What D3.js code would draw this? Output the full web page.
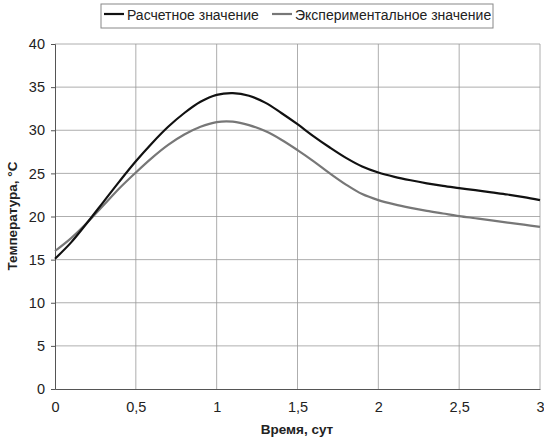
<!DOCTYPE html>
<html><head><meta charset="utf-8">
<script src="https://cdn.jsdelivr.net/npm/d3@7"></script>
<style>body{margin:0;background:#fff}svg{display:block}text{font-family:"Liberation Sans",Arial,sans-serif}</style>
</head><body><svg id="c" width="544" height="439"></svg>
<script>
const times = [0,0.1,0.2,0.3,0.4,0.5,0.6,0.7,0.8,0.9,1.0,1.1,1.2,1.3,1.4,1.5,1.6,1.7,1.8,1.9,2.0,2.1,2.2,2.3,2.4,2.5,2.6,2.7,2.8,2.9,3.0];
const calculated = [15.1,17.0,19.3,21.7,24.1,26.4,28.5,30.4,32.0,33.3,34.1,34.3,34.0,33.2,32.0,30.7,29.3,28.0,26.8,25.8,25.1,24.6,24.2,23.85,23.55,23.3,23.05,22.8,22.55,22.25,21.9];
const experimental = [16.0,17.5,19.3,21.3,23.3,25.1,26.8,28.3,29.5,30.4,30.95,31.0,30.6,29.9,28.9,27.7,26.4,25.0,23.7,22.6,21.9,21.4,21.0,20.65,20.35,20.05,19.8,19.55,19.3,19.05,18.8];
const seriesNames = ["Расчетное значение","Экспериментальное значение"];
const xTicks = [0,0.5,1,1.5,2,2.5,3];
const yTicks = [0,5,10,15,20,25,30,35,40];
const xTitle = "Время, сут";
const yTitle = "Температура, °С";

const svg = d3.select("#c");
const L=55,R=540,T=44,B=389;
const x = d3.scaleLinear().domain([0,3]).range([L,R]);
const y = d3.scaleLinear().domain([0,40]).range([B,T]);
const fmt = d => String(d).replace(".",",");

// grid
svg.append("g").selectAll("line").data(yTicks.filter(d=>d>0)).join("line")
  .attr("x1",L).attr("x2",R).attr("y1",d=>y(d)).attr("y2",d=>y(d))
  .attr("stroke","#999").attr("stroke-width",0.8);
svg.append("g").selectAll("line").data(xTicks.filter(d=>d>0)).join("line")
  .attr("y1",T).attr("y2",B).attr("x1",d=>x(d)).attr("x2",d=>x(d))
  .attr("stroke","#999").attr("stroke-width",0.8);

// axes
const xa = svg.append("g").attr("transform",`translate(0,${B})`)
  .call(d3.axisBottom(x).tickValues(xTicks).tickFormat(fmt).tickSize(0).tickPadding(13));
const ya = svg.append("g").attr("transform",`translate(${L},0)`)
  .call(d3.axisLeft(y).tickValues(yTicks).tickSize(4).tickPadding(6));
[xa,ya].forEach(a=>{a.select(".domain").attr("stroke","#555");a.selectAll("line").attr("stroke","#555");
  a.selectAll("text").attr("font-size",14.5).attr("fill","#222").attr("font-family","Liberation Sans, Arial, sans-serif");});

const line = d3.line().x((d,i)=>x(times[i])).y(d=>y(d)).curve(d3.curveCatmullRom.alpha(0.5));
svg.append("path").attr("d",line(experimental)).attr("fill","none").attr("stroke","#777").attr("stroke-width",2.2);
svg.append("path").attr("d",line(calculated)).attr("fill","none").attr("stroke","#111").attr("stroke-width",2.2);

// titles
svg.append("text").attr("x",297).attr("y",434).attr("text-anchor","middle")
  .attr("font-size",13.5).attr("font-weight","bold").attr("fill","#222").text(xTitle);
svg.append("text").attr("transform","translate(17,216) rotate(-90)").attr("text-anchor","middle")
  .attr("font-size",13.5).attr("font-weight","bold").attr("fill","#222").text(yTitle);

// legend
const lg = svg.append("g");
lg.append("rect").attr("x",101).attr("y",4).attr("width",392).attr("height",24)
  .attr("fill","#fff").attr("stroke","#888");
const items=[{n:seriesNames[0],c:"#111",x:104},{n:seriesNames[1],c:"#777",x:272}];
items.forEach(it=>{
  lg.append("line").attr("x1",it.x).attr("x2",it.x+20).attr("y1",14).attr("y2",14).attr("stroke",it.c).attr("stroke-width",2.2);
  lg.append("text").attr("x",it.x+23).attr("y",20).attr("font-size",14).attr("fill","#222").text(it.n);
});
</script></body></html>
